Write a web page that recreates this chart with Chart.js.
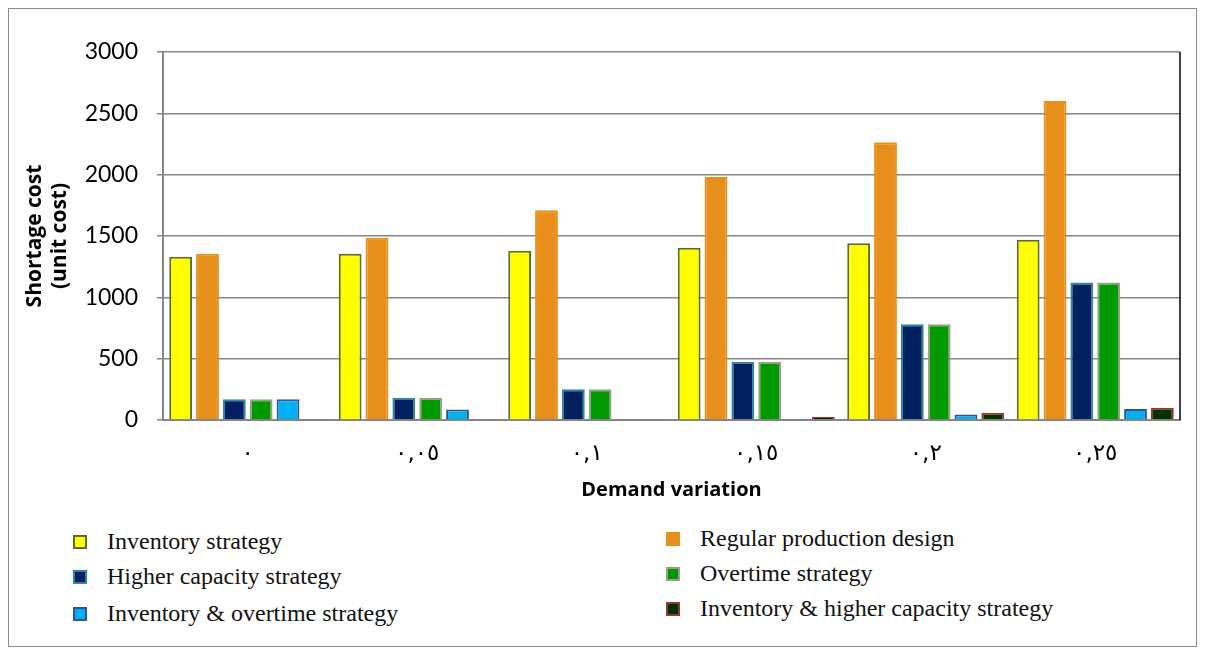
<!DOCTYPE html>
<html>
<head>
<meta charset="utf-8">
<script src="https://cdn.jsdelivr.net/npm/chart.js@4.4.1/dist/chart.umd.min.js"></script>
<style>
  body { margin: 0; background: #fff; }
  #frame { position: absolute; left: 8px; top: 8px; width: 1189px; height: 639px; border: 1px solid #8c8c8c; box-sizing: border-box; }
  #chartBox { position: absolute; left: 0; top: 0; width: 1205px; height: 510px; }
  .leg { position: absolute; font-family: "Liberation Serif", "Times New Roman", serif; font-size: 24px; color: #111; white-space: nowrap; }
  .leg span.box { position: absolute; left: -34px; top: 7px; width: 10px; height: 10px; border: 2px solid; }
</style>
</head>
<body>
<div id="frame"></div>
<div id="chartBox"><canvas id="shortageChart" width="1205" height="510"></canvas></div>
<div id="legend"></div>
<script>
// Demand variation categories (Arabic-Indic digits as in the source)
const categories = ['٠', '٠,٠٥', '٠,١', '٠,١٥', '٠,٢', '٠,٢٥'];

// Shortage cost per strategy
const inventoryStrategy = [1330, 1355, 1380, 1405, 1440, 1470];
const regularProduction = [1355, 1485, 1710, 1980, 2265, 2600];
const higherCapacity = [170, 180, 250, 475, 780, 1120];
const overtimeStrategy = [170, 180, 250, 475, 780, 1120];
const inventoryOvertime = [170, 85, 5, 10, 45, 90];
const inventoryHigherCapacity = [5, 5, 5, 25, 60, 100];

const yTicks = [0, 500, 1000, 1500, 2000, 2500, 3000];

const series = [
    { label: 'Inventory strategy', data: inventoryStrategy, bg: '#ffff00', border: '#5e6b2b' },
    { label: 'Regular production design', data: regularProduction, bg: '#e88e1a', border: '#e88e1a' },
    { label: 'Higher capacity strategy', data: higherCapacity, bg: '#002060', border: '#31859c' },
    { label: 'Overtime strategy', data: overtimeStrategy, bg: '#009900', border: '#98a08a' },
    { label: 'Inventory & overtime strategy', data: inventoryOvertime, bg: '#00b0f0', border: '#2f5597' },
    { label: 'Inventory & higher capacity strategy', data: inventoryHigherCapacity, bg: '#003300', border: '#953735' }
];

// draw right edge of the plot area
const plotBorder = {
    id: 'plotBorder',
    afterDraw(chart) {
        const { ctx, chartArea } = chart;
        ctx.save();
        ctx.strokeStyle = '#000';
        ctx.lineWidth = 1.5;
        ctx.beginPath();
        ctx.moveTo(chartArea.right, chartArea.top);
        ctx.lineTo(chartArea.right, chartArea.bottom);
        ctx.stroke();
        ctx.restore();
    }
};

const ctx = document.getElementById('shortageChart').getContext('2d');
const chart = new Chart(ctx, {
    type: 'bar',
    data: {
        labels: categories,
        datasets: series.map(s => ({
            label: s.label,
            data: s.data,
            backgroundColor: s.bg,
            borderColor: s.border,
            borderWidth: 2,
            categoryPercentage: 0.95,
            barPercentage: 0.85
        }))
    },
    options: {
        responsive: false,
        animation: false,
        layout: { padding: { top: 52, right: 25, left: 18, bottom: 0 } },
        plugins: {
            legend: { display: false },
            tooltip: { enabled: false }
        },
        scales: {
            x: {
                grid: { display: false },
                border: { color: '#868686', width: 2 },
                ticks: { color: '#000', font: { family: 'DejaVu Sans', size: 23 }, padding: 12 },
                title: { display: true, text: 'Demand variation', color: '#000', font: { family: 'Open Sans', size: 20, weight: 'bold' }, padding: { top: 0, bottom: 8 } },
                afterFit(scale) { scale.height = 510 - 420; }
            },
            y: {
                min: 0,
                max: 3000,
                afterBuildTicks(scale) { scale.ticks = yTicks.map(v => ({ value: v })); },
                grid: { color: '#868686', lineWidth: 1.5, tickLength: 6 },
                border: { color: '#868686', width: 2 },
                ticks: { color: '#000', font: { family: 'Lato', size: 23 }, padding: 19, callback: v => String(v) },
                title: { display: true, text: ['Shortage cost', '(unit cost)'], color: '#000', font: { family: 'Open Sans', size: 21, weight: 'bold' }, padding: { bottom: 0 } },
                afterFit(scale) { scale.width = 163 - 18; }
            }
        }
    },
    plugins: [plotBorder]
});

// legend in two columns below the chart
const legendPos = [
    { x: 107, y: 528 }, { x: 700, y: 525 },
    { x: 107, y: 563 }, { x: 700, y: 560 },
    { x: 107, y: 600 }, { x: 700, y: 595 }
];
const legendEl = document.getElementById('legend');
series.forEach((s, i) => {
    const item = document.createElement('div');
    item.className = 'leg';
    item.style.left = legendPos[i].x + 'px';
    item.style.top = legendPos[i].y + 'px';
    const box = document.createElement('span');
    box.className = 'box';
    box.style.background = s.bg;
    box.style.borderColor = s.border;
    item.appendChild(box);
    item.appendChild(document.createTextNode(s.label));
    legendEl.appendChild(item);
});
</script>
</body>
</html>
